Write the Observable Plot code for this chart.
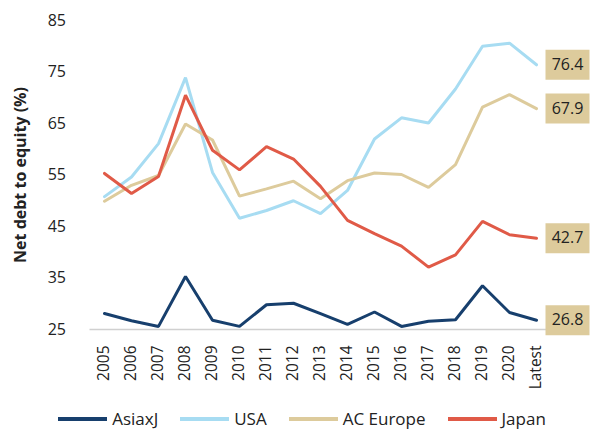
<!DOCTYPE html>
<html>
<head>
<meta charset="utf-8">
<script src="https://cdn.jsdelivr.net/npm/d3@7"></script>
<script src="https://cdn.jsdelivr.net/npm/@observablehq/plot@0.6"></script>
<style>
  html, body { margin: 0; padding: 0; background: #fff; }
  body { width: 590px; height: 432px; overflow: hidden; font-family: "Open Sans", sans-serif; }
  #legend { display: flex; justify-content: center; align-items: center; padding-left: 14px; height: 27px; font-size: 17px; color: #222; }
  .item { display: flex; align-items: center; margin: 0 11px; }
  .item svg { margin-right: 5px; }
</style>
</head>
<body>
<div id="chart"></div>
<div id="legend"></div>
<script>
const years = ["2005","2006","2007","2008","2009","2010","2011","2012","2013","2014","2015","2016","2017","2018","2019","2020","Latest"];
const seriesNames = ["AsiaxJ", "USA", "AC Europe", "Japan"];
const seriesColors = ["#173f6d", "#a7dcf2", "#ddcb9c", "#e05a47"];
const asiaxJ = [28.1, 26.7, 25.6, 35.3, 26.8, 25.6, 29.8, 30.1, 28.1, 26.0, 28.4, 25.6, 26.6, 26.9, 33.5, 28.3, 26.8];
const usa    = [50.8, 54.6, 61.1, 73.9, 55.5, 46.6, 48.1, 50.0, 47.5, 52.0, 62.0, 66.1, 65.1, 71.7, 80.0, 80.6, 76.4];
const europe = [49.9, 53.0, 54.9, 64.9, 61.8, 50.9, 52.3, 53.8, 50.4, 53.9, 55.4, 55.1, 52.6, 57.0, 68.2, 70.6, 67.9];
const japan  = [55.3, 51.4, 54.7, 70.5, 59.8, 56.0, 60.5, 58.1, 52.8, 46.2, 43.6, 41.2, 37.1, 39.5, 46.0, 43.4, 42.7];
const yTicks = [25, 35, 45, 55, 65, 75, 85];

const seriesValues = [asiaxJ, usa, europe, japan];
const data = seriesNames.flatMap((s, i) => years.map((y, j) => ({series: s, year: y, value: seriesValues[i][j]})));
const latest = data.filter(d => d.year === "Latest");

const boxSymbol = { draw(ctx) { ctx.rect(-22, -15, 44, 30); } };

const chart = Plot.plot({
  width: 590,
  height: 405,
  marginLeft: 89.5,
  marginRight: 40,
  marginTop: 20,
  marginBottom: 76,
  style: { fontFamily: "Open Sans, sans-serif", color: "#222", background: "#fff" },
  x: { type: "point", domain: years, padding: 0.5 },
  y: { domain: [25, 85] },
  color: { domain: seriesNames, range: seriesColors },
  marks: [
    Plot.ruleY([25], { stroke: "#d0d0d0", strokeWidth: 1.5 }),
    Plot.axisY({ ticks: yTicks, tickSize: 0, tickPadding: 24, fontSize: 16, label: "Net debt to equity (%)", labelAnchor: "center", labelArrow: "none", labelOffset: 75 }),
    Plot.axisX({ tickSize: 0, tickPadding: 16, tickRotate: -90, fontSize: 15.5, label: null }),
    Plot.line(data, { x: "year", y: "value", z: "series", stroke: "series", strokeWidth: 3, strokeLinejoin: "miter" }),
    Plot.dot(latest, { x: "year", y: "value", symbol: boxSymbol, fill: "#ddcb9c", stroke: "none", dx: 31, r: 5 }),
    Plot.text(latest, { x: "year", y: "value", text: d => d.value.toFixed(1), dx: 31, fontSize: 16, fill: "#222" })
  ]
});
document.getElementById("chart").appendChild(chart);

const yLabel = chart.querySelector('[aria-label="y-axis label"] text');
if (yLabel) {
  yLabel.setAttribute("font-weight", "bold");
  yLabel.setAttribute("font-size", "16");
}

const legend = document.getElementById("legend");
seriesNames.forEach((s, i) => {
  const item = document.createElement("div");
  item.className = "item";
  item.innerHTML = `<svg width="49" height="6"><line x1="0" y1="3" x2="49" y2="3" stroke="${seriesColors[i]}" stroke-width="4"/></svg><span>${s}</span>`;
  legend.appendChild(item);
});
</script>
</body>
</html>
